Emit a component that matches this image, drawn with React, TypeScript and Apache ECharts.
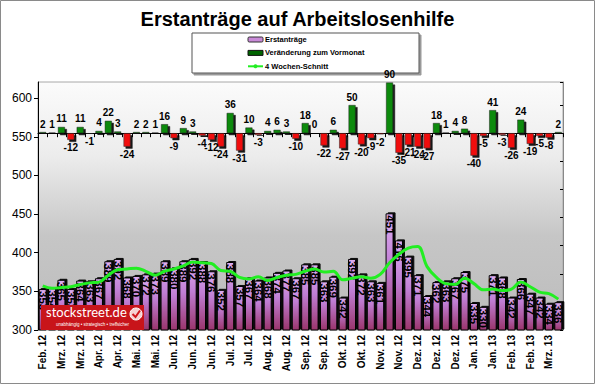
import React, { useEffect, useRef } from "react";
import * as echarts from "echarts";

const categories = [
  "Feb. 12", "Mrz. 12", "Mrz. 12", "Mrz. 12", "Mrz. 12", "Mrz. 12",
  "Apr. 12", "Apr. 12", "Apr. 12", "Apr. 12",
  "Mai. 12", "Mai. 12", "Mai. 12", "Mai. 12",
  "Jun. 12", "Jun. 12", "Jun. 12", "Jun. 12", "Jun. 12",
  "Jul. 12", "Jul. 12", "Jul. 12", "Jul. 12",
  "Aug. 12", "Aug. 12", "Aug. 12", "Aug. 12",
  "Sep. 12", "Sep. 12", "Sep. 12", "Sep. 12", "Sep. 12",
  "Okt. 12", "Okt. 12", "Okt. 12", "Okt. 12",
  "Nov. 12", "Nov. 12", "Nov. 12", "Nov. 12",
  "Dez. 12", "Dez. 12", "Dez. 12", "Dez. 12", "Dez. 12",
  "Jan. 13", "Jan. 13", "Jan. 13", "Jan. 13",
  "Feb. 13", "Feb. 13", "Feb. 13", "Feb. 13",
  "Mrz. 13", "Mrz. 13", "Mrz. 13",
];

const claims = [
  353, 354, 365, 353, 364, 363, 367, 389, 392, 368,
  370, 372, 373, 389, 380, 389, 392, 388, 376, 352,
  388, 357, 367, 364, 368, 374, 377, 367, 385, 385,
  363, 369, 342, 392, 372, 363, 361, 451, 416, 395,
  371, 344, 362, 363, 367, 375, 335, 330, 371, 368,
  342, 366, 347, 342, 334, 336,
];

const changes = [
  2, 1, 11, -12, 11, -1, 4, 22, 3, -24,
  2, 2, 1, 16, -9, 9, 3, -4, -12, -24,
  36, -31, 10, -3, 4, 6, 3, -10, 18, 0,
  -22, 6, -27, 50, -20, -9, -2, 90, -35, -21,
  -24, -27, 18, 1, 4, 8, -40, -5, 41, -3,
  -26, 24, -19, -5, -8, 2,
];

const avg4 = [
  357, 354, 355, 356, 359, 361, 362, 371, 378, 379,
  380, 376, 371, 376, 379, 383, 388, 387, 386, 377,
  376, 368, 366, 369, 364, 368, 371, 372, 376, 379,
  375, 376, 365, 367, 369, 367, 372, 387, 398, 406,
  408, 382, 368, 360, 359, 367, 360, 352, 353, 351,
  353, 362, 356, 349, 347, 340,
];

const F = "'Liberation Sans', Arial, sans-serif";
const GREEN = "#0a8a0a";
const RED = "#f01010";

export default function App() {
  const ref = useRef<HTMLDivElement>(null);
  useEffect(() => {
    if (!ref.current) return;
    const chart = echarts.init(ref.current, undefined, { renderer: "svg" });
    const purple = new echarts.graphic.LinearGradient(0, 0, 0, 1, [
      { offset: 0, color: "#deaef2" },
      { offset: 0.45, color: "#c07ed4" },
      { offset: 1, color: "#9a356c" },
    ]);
    const bg = new echarts.graphic.LinearGradient(0, 0, 0, 1, [
      { offset: 0, color: "#fbfbfb" },
      { offset: 0.3, color: "#ececec" },
      { offset: 0.62, color: "#c6c6c6" },
      { offset: 1, color: "#bcbcbc" },
    ]);
    const changeData = changes.map((v) => ({
      value: v,
      itemStyle: { color: v < 0 ? RED : GREEN },
      label: { position: v < 0 ? "bottom" : "top" },
    }));
    chart.setOption({
      animation: false,
      backgroundColor: "#ffffff",
      title: {
        text: "Erstanträge auf Arbeitslosenhilfe",
        left: "center",
        top: 4,
        textStyle: {
          fontFamily: F,
          fontSize: 20,
          fontWeight: "bold",
          color: "#000",
          textShadowColor: "#999",
          textShadowOffsetX: 1,
          textShadowOffsetY: 1,
          textShadowBlur: 0,
        },
      },
      legend: {
        orient: "vertical",
        left: 247,
        top: 35,
        padding: 0,
        itemWidth: 15,
        itemHeight: 5,
        itemGap: 4.4,
        textStyle: { fontFamily: F, fontSize: 7.5, fontWeight: "bold", color: "#000", lineHeight: 9, padding: [0, 0, 0, -3] },
        data: [
          { name: "Erstanträge", icon: "roundRect", itemStyle: { color: "#c98ad8", borderColor: "#333", borderWidth: 1 } },
          { name: "Veränderung zum Vormonat", icon: "rect", itemStyle: { color: "#006400", borderColor: "#111", borderWidth: 1 } },
          { name: "4 Wochen-Schnitt" },
        ],
      },
      grid: {
        left: 38,
        right: 32,
        top: 82,
        bottom: 54,
        show: true,
        backgroundColor: bg,
        borderColor: "#a8a8a8",
        borderWidth: 1,
      },
      xAxis: [
        {
          type: "category",
          data: categories,
          axisLine: { lineStyle: { color: "#000", width: 1 } },
          axisTick: { show: true, interval: 0, length: 4, lineStyle: { color: "#000" } },
          axisLabel: {
            interval: 1,
            rotate: 90,
            margin: 5,
            fontFamily: F,
            fontSize: 10,
            fontWeight: "bold",
            color: "#000",
          },
        },
        {
          type: "category",
          data: categories,
          show: false,
        },
      ],
      yAxis: [
        {
          type: "value",
          min: 300,
          max: 621,
          interval: 50,
          position: "left",
          axisLine: { show: true, lineStyle: { color: "#000" } },
          axisTick: { show: true, inside: false, length: 4, lineStyle: { color: "#000" } },
          axisLabel: { showMaxLabel: false, fontFamily: F, fontSize: 12, color: "#000", margin: 6 },
          splitLine: { show: false },
        },
        {
          type: "value",
          min: -350,
          max: 91,
          interval: 50,
          position: "right",
          axisLine: { show: true, lineStyle: { color: "#888" } },
          axisTick: { show: true, inside: true, length: 3, lineStyle: { color: "#000" } },
          axisLabel: { show: false },
          splitLine: { show: false },
        },
      ],
      series: [
        {
          name: "Erstanträge",
          type: "bar",
          xAxisIndex: 0,
          yAxisIndex: 0,
          data: claims,
          barWidth: 8,
          z: 2,
          itemStyle: {
            color: purple,
            borderColor: "#000",
            borderWidth: 1,
            shadowColor: "rgba(0,0,0,0.95)",
            shadowOffsetX: 2,
            shadowOffsetY: -1,
            shadowBlur: 0,
          },
          label: {
            show: true,
            position: "insideTop",
            rotate: -90,
            align: "left",
            verticalAlign: "middle",
            distance: 2,
            fontFamily: F,
            fontSize: 11.5,
            fontWeight: "bold",
            color: "#000",
            textBorderWidth: 0,
            textBorderColor: "transparent",
            textShadowBlur: 0,
            textShadowColor: "transparent",
          },
        },
        {
          name: "Veränderung zum Vormonat",
          type: "bar",
          xAxisIndex: 1,
          yAxisIndex: 1,
          data: changeData,
          barWidth: 7,
          z: 3,
          itemStyle: {
            color: GREEN,
            borderColor: "#222",
            borderWidth: 0.5,
            shadowColor: "rgba(0,0,0,0.9)",
            shadowOffsetX: 2,
            shadowOffsetY: 2,
            shadowBlur: 0,
          },
          label: {
            show: true,
            distance: 3,
            fontFamily: F,
            fontSize: 10,
            fontWeight: "bold",
            color: "#000",
          },
        },
        {
          name: "4 Wochen-Schnitt",
          type: "line",
          xAxisIndex: 0,
          yAxisIndex: 0,
          data: avg4,
          smooth: 0.4,
          symbol: "none",
          z: 4,
          lineStyle: { color: "#22ee22", width: 3 },
          itemStyle: { color: "#22ee22" },
        },
      ],
      graphic: [
        {
          type: "rect",
          z: -1,
          shape: { x: 192, y: 33, width: 227, height: 40 },
          style: { fill: "#fff", stroke: "#555", lineWidth: 1, shadowColor: "rgba(0,0,0,0.4)", shadowOffsetX: 2, shadowOffsetY: 2, shadowBlur: 0 },
        },
        {
          type: "rect",
          z: 100,
          shape: { x: 0.5, y: 0.5, width: 594, height: 383 },
          style: { fill: "none", stroke: "#8a8a8a", lineWidth: 1 },
          silent: true,
        },
        {
          type: "rect",
          z: 100,
          shape: { x: 41, y: 305, width: 103, height: 25 },
          style: { fill: "#c8141a" },
        },
        {
          type: "text",
          z: 101,
          x: 46,
          y: 305,
          style: { text: "stockstreet.de", fill: "#fff", font: "13px Lato, 'Open Sans', sans-serif" },
        },
        {
          type: "text",
          z: 101,
          x: 56,
          y: 321.5,
          style: { text: "unabhängig • strategisch • treffsicher", fill: "#fff", font: "4.5px 'Liberation Sans', sans-serif" },
        },
        {
          type: "circle",
          z: 101,
          shape: { cx: 136, cy: 314, r: 6 },
          style: { fill: "#f6d0d0", stroke: "#fff", lineWidth: 1 },
        },
        {
          type: "polyline",
          z: 102,
          shape: { points: [[132.5, 314], [135.5, 317], [140, 310.5]] },
          style: { stroke: "#d01418", lineWidth: 2, fill: "none" },
        },
      ],
    });
    return () => chart.dispose();
  }, []);
  return <div ref={ref} style={{ position: "fixed", left: 0, top: 0, width: 595, height: 384 }} />;
}
